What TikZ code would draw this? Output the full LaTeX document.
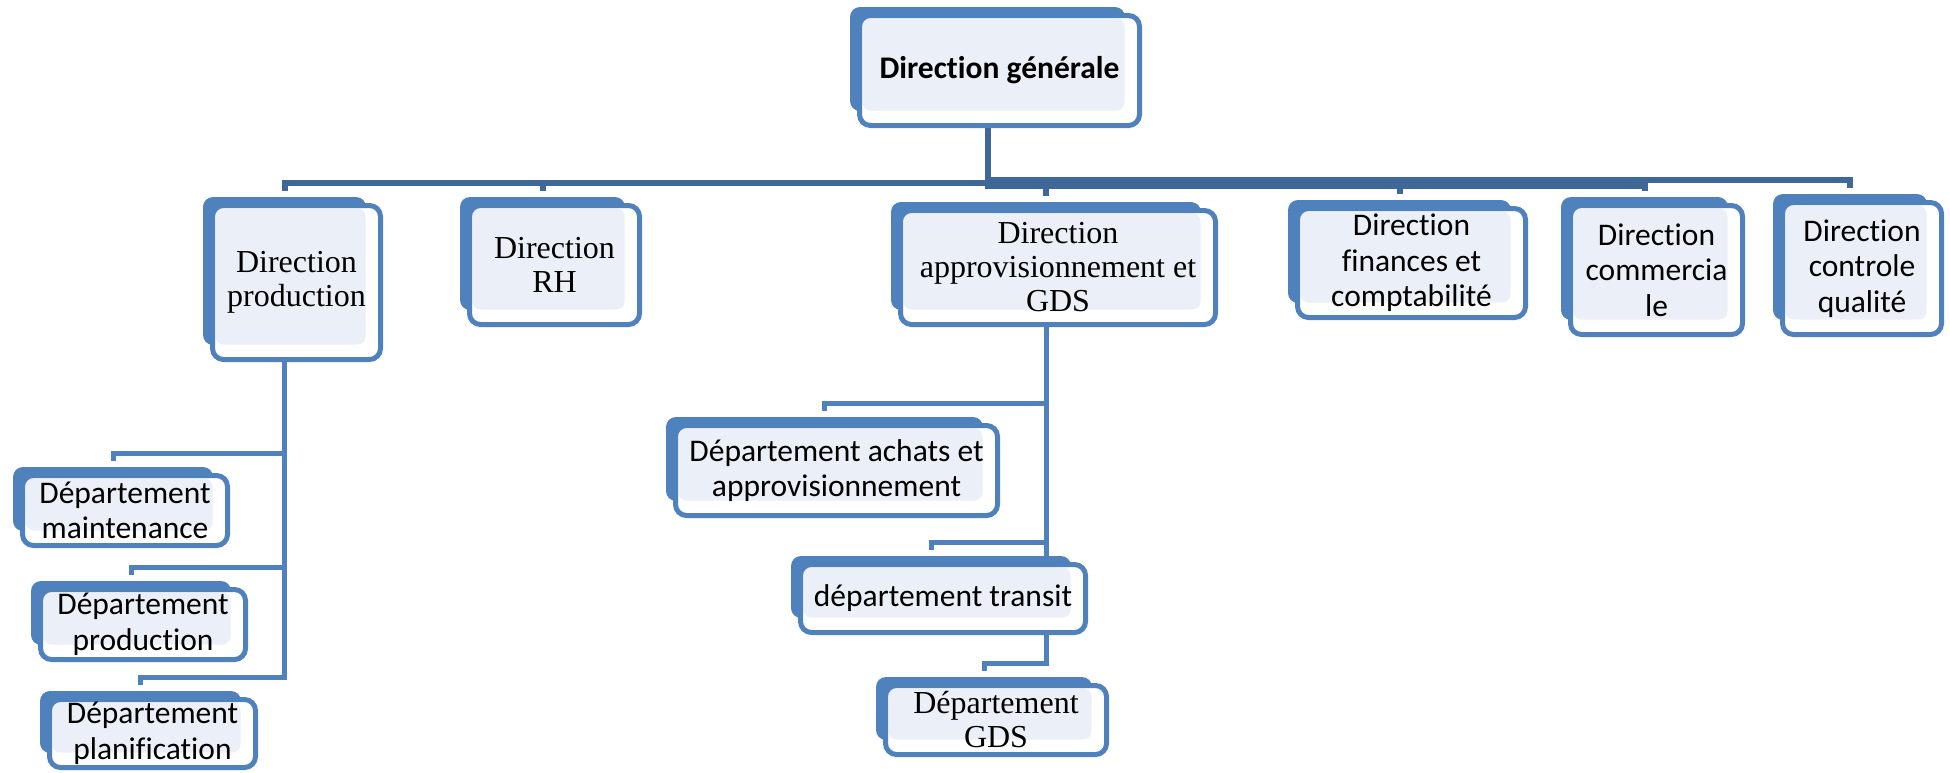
\documentclass[tikz,border=0pt]{standalone}
\usepackage{fontspec}
\setmainfont{Liberation Serif}
\newfontfamily\calibri[Ligatures={NoCommon,NoContextual},RawFeature=-clig]{Carlito}
\usetikzlibrary{backgrounds}
\definecolor{boxblue}{HTML}{4F81BD}
\definecolor{boxlight}{HTML}{EBF0F8}
\definecolor{barblue}{HTML}{3F6797}
\begin{document}
\begin{tikzpicture}[x=1pt,y=-1pt,
  unit/.style={draw=boxblue, line width=5pt, fill=white, rounded corners=11pt, inner sep=0pt, align=center,
    path picture={\fill[boxlight, rounded corners=8pt] ([shift={(3,3)}]path picture bounding box.north west) rectangle ([shift={(-15,-15)}]path picture bounding box.south east);}},
  serif/.style={font=\fontsize{32}{34}\selectfont},
  sans/.style={font=\calibri\fontsize{31.5}{35.5}\selectfont},
  link/.style={draw=boxblue, line width=5pt},
  bar/.style={draw=barblue, line width=6pt}]
\useasboundingbox (0,0) rectangle (1950,772);

% directions
\node[unit, minimum width=280, minimum height=110, font=\calibri\bfseries\fontsize{31.5}{36}\selectfont] (dg) at (999.5,70.5) {Direction générale};
\node[unit, serif, minimum width=168, minimum height=154] (prod) at (296.5,282.5) {Direction\\production};
\node[unit, serif, minimum width=170, minimum height=119] (rh) at (554.5,265) {Direction\\RH};
\node[unit, serif, minimum width=315, minimum height=114] (appro) at (1058,267.5) {Direction\\approvisionnement et\\GDS};
\node[unit, sans, minimum width=228, minimum height=109] (fin) at (1411.5,263) {Direction\\finances et\\comptabilité};
\node[unit, sans, minimum width=172, minimum height=129] (com) at (1656.5,270) {Direction\\commercia\\le};
\node[unit, sans, minimum width=159, minimum height=132] (ctrl) at (1862,268.5) {Direction\\controle\\qualité};

% departements
\node[unit, sans, minimum width=205, minimum height=70] (maint) at (125,510.5) {Département\\maintenance};
\node[unit, sans, minimum width=205, minimum height=70] (dprod) at (143,624.5) {Département\\production};
\node[unit, sans, minimum width=206, minimum height=68] (plan) at (152.5,733.5) {Département\\planification};
\node[unit, sans, minimum width=322, minimum height=90] (achats) at (836.5,470.5) {Département achats et\\approvisionnement};
\node[unit, sans, minimum width=285, minimum height=68] (transit) at (943,598.5) {département transit};
\node[unit, serif, minimum width=221, minimum height=69] (gds) at (996,720) {Département\\GDS};

\foreach \n in {dg,prod,rh,appro,fin,com,ctrl,maint,dprod,plan,achats,transit,gds} {
  \coordinate (\n-top) at ([shift={(-12,-12)}]\n.north);
  \coordinate (\n-bot) at ([shift={(-12,-17)}]\n.south);
}
\coordinate (bus) at (0,183);
\coordinate (busR) at (0,186);
\coordinate (busC) at (0,180);

\begin{scope}[on background layer]
\draw[bar] (dg-bot) |- (prod-top |- bus) -- (prod-top);
\draw[bar] (dg-bot) |- (rh-top |- bus) -- (rh-top);
\draw[bar] (dg-bot) |- (appro-top |- busR) -- (appro-top);
\draw[bar] (dg-bot) |- (fin-top |- busR) -- (fin-top);
\draw[bar] (dg-bot) |- (com-top |- busR) -- (com-top);
\draw[bar] (dg-bot) |- (ctrl-top |- busC) -- (ctrl-top);

\draw[link] (prod-bot) |- ([yshift=8pt]maint-top) -- (maint-top);
\draw[link] (prod-bot) |- ([yshift=8pt]dprod-top) -- (dprod-top);
\draw[link] (prod-bot) |- ([yshift=8pt]plan-top) -- (plan-top);
\draw[link] (appro-bot) |- ([yshift=8pt]achats-top) -- (achats-top);
\draw[link] (appro-bot) |- ([yshift=8pt]transit-top) -- (transit-top);
\draw[link] (appro-bot) |- ([yshift=8pt]gds-top) -- (gds-top);

\foreach \n in {dg,prod,rh,appro,fin,com,ctrl,maint,dprod,plan,achats,transit,gds}
  \fill[boxblue, rounded corners=10pt] ([shift={(-7,-6)}]\n.north west) rectangle ([shift={(-17,-17)}]\n.south east);
\end{scope}
\end{tikzpicture}
\end{document}
